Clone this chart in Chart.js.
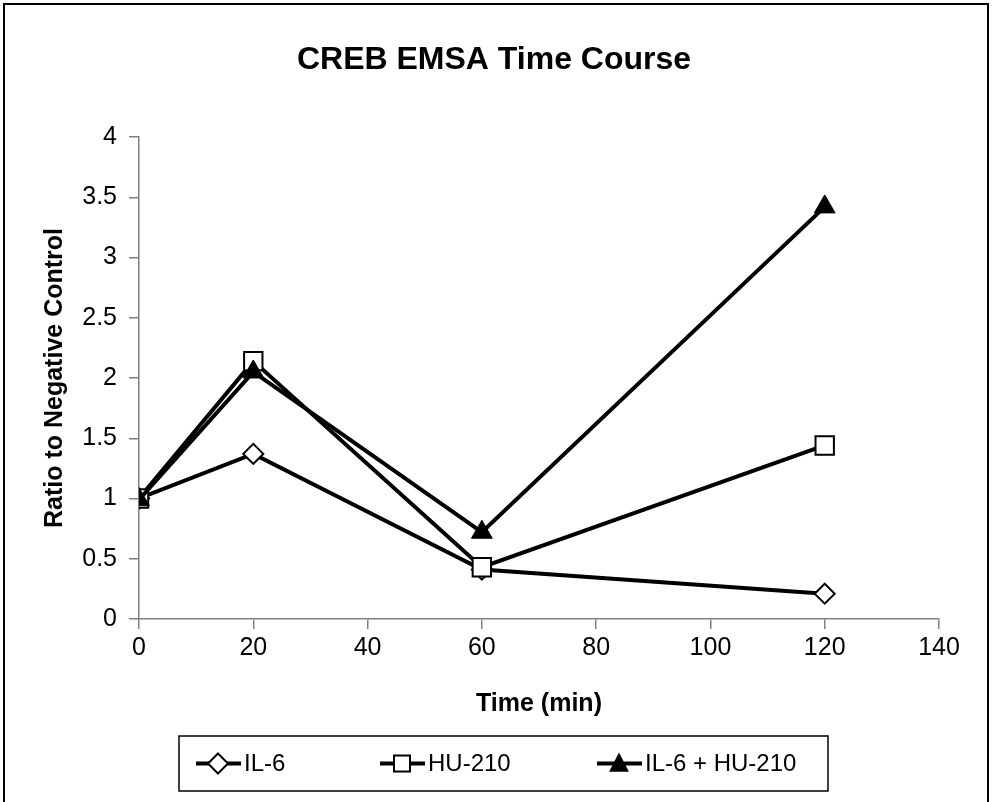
<!DOCTYPE html>
<html>
<head>
<meta charset="utf-8">
<script src="https://cdn.jsdelivr.net/npm/chart.js@4.4.1/dist/chart.umd.min.js"></script>
<style>
  html, body { margin: 0; padding: 0; background: #fff; }
  #wrap { width: 992px; height: 802px; position: relative; }
</style>
</head>
<body>
<div id="wrap"><canvas id="chart" width="992" height="802"></canvas></div>
<script>
// Data
const times = [0, 20, 60, 120];
const il6 = [1.0, 1.37, 0.41, 0.21];
const hu210 = [1.0, 2.14, 0.43, 1.44];
const il6Hu210 = [0.99, 2.05, 0.72, 3.42];
const seriesNames = ['IL-6', 'HU-210', 'IL-6 + HU-210'];
const chartTitle = 'CREB EMSA Time Course';
const xTicks = { min: 0, max: 140, step: 20 };
const yTicks = { min: 0, max: 4, step: 0.5 };

const FONT = '"Liberation Sans", Arial, sans-serif';
const AXIS_GRAY = '#808080';

function pts(vals) {
    return vals.map((v, i) => ({ x: times[i], y: v }));
}

// simple shapes for the legend box
function drawMarker(ctx, style, x, y) {
    ctx.save();
    ctx.lineWidth = 2;
    ctx.strokeStyle = '#000';
    ctx.beginPath();
    if (style === 'rectRot') {
        const r = 10;
        ctx.moveTo(x, y - r); ctx.lineTo(x + r, y); ctx.lineTo(x, y + r); ctx.lineTo(x - r, y); ctx.closePath();
        ctx.fillStyle = '#fff'; ctx.fill(); ctx.stroke();
    } else if (style === 'rect') {
        const s = 8;
        ctx.rect(x - s, y - s, 2 * s, 2 * s);
        ctx.fillStyle = '#fff'; ctx.fill(); ctx.stroke();
    } else {
        const r = 11;
        ctx.moveTo(x, y - r); ctx.lineTo(x + r * 0.9, y + r * 0.75); ctx.lineTo(x - r * 0.9, y + r * 0.75); ctx.closePath();
        ctx.fillStyle = '#000'; ctx.fill();
    }
    ctx.restore();
}

const frameAndLegend = {
    id: 'frameAndLegend',
    afterDraw(chart) {
        const ctx = chart.ctx;
        ctx.save();
        // outer frame
        ctx.strokeStyle = '#000';
        ctx.lineWidth = 2;
        ctx.strokeRect(4, 4, 984, 800);

        // title (centred on the frame, not the plot)
        ctx.font = 'bold 32px ' + FONT;
        ctx.fillStyle = '#000';
        ctx.textAlign = 'center';
        ctx.textBaseline = 'middle';
        ctx.fillText(chartTitle, 494, 60);

        // legend box
        const box = { left: 179, top: 736, right: 828, bottom: 791 };
        ctx.lineWidth = 1.5;
        ctx.strokeStyle = '#000';
        ctx.strokeRect(box.left, box.top, box.right - box.left, box.bottom - box.top);

        const cy = (box.top + box.bottom) / 2;
        const entries = [
            { x: 196, style: 'rectRot' },
            { x: 380, style: 'rect' },
            { x: 597, style: 'triangle' }
        ];
        ctx.font = '24px ' + FONT;
        ctx.textAlign = 'left';
        entries.forEach((e, i) => {
            ctx.lineWidth = 4;
            ctx.strokeStyle = '#000';
            ctx.beginPath();
            ctx.moveTo(e.x, cy);
            ctx.lineTo(e.x + 45, cy);
            ctx.stroke();
            drawMarker(ctx, e.style, e.x + 22, cy);
            ctx.fillText(seriesNames[i], e.x + 48, cy + 1);
        });
        ctx.restore();
    }
};

const commonLine = {
    borderColor: '#000',
    borderWidth: 4,
    pointBorderColor: '#000',
    pointBorderWidth: 2,
    tension: 0,
    fill: false
};

new Chart(document.getElementById('chart'), {
    type: 'line',
    data: {
        datasets: [
            Object.assign({}, commonLine, {
                label: seriesNames[0], data: pts(il6),
                pointStyle: 'rectRot', pointRadius: 10, pointBackgroundColor: '#fff', order: 2
            }),
            Object.assign({}, commonLine, {
                label: seriesNames[1], data: pts(hu210),
                pointStyle: 'rect', pointRadius: 13, pointBackgroundColor: '#fff', order: 1
            }),
            Object.assign({}, commonLine, {
                label: seriesNames[2], data: pts(il6Hu210),
                pointStyle: 'triangle', pointRadius: 12, pointBackgroundColor: '#000', pointBorderWidth: 1, order: 0
            })
        ]
    },
    options: {
        responsive: false,
        animation: false,
        layout: { padding: { left: 30, right: 53, top: 137, bottom: 83 } },
        plugins: {
            legend: { display: false },
            tooltip: { enabled: false },
            title: { display: false }
        },
        scales: {
            x: {
                type: 'linear',
                min: xTicks.min, max: xTicks.max,
                ticks: { stepSize: xTicks.step, color: '#000', font: { family: FONT, size: 25 }, padding: 4, maxRotation: 0 },
                grid: { drawOnChartArea: false, drawTicks: true, tickLength: 10, color: AXIS_GRAY, lineWidth: 1.5 },
                border: { color: AXIS_GRAY, width: 1.5 },
                title: { display: true, text: 'Time (min)', color: '#000', font: { family: FONT, size: 25, weight: 'bold' }, padding: { top: 0, bottom: 0 } },
                afterFit: s => { s.height = 100; }
            },
            y: {
                min: yTicks.min, max: yTicks.max,
                ticks: { stepSize: yTicks.step, color: '#000', font: { family: FONT, size: 25 }, padding: 12,
                         callback: v => String(v) },
                grid: { drawOnChartArea: false, drawTicks: true, tickLength: 10, color: AXIS_GRAY, lineWidth: 1.5 },
                border: { color: AXIS_GRAY, width: 1.5 },
                title: { display: true, text: 'Ratio to Negative Control', color: '#000', font: { family: FONT, size: 25, weight: 'bold' }, padding: { top: 10, bottom: 0 } },
                afterFit: s => { s.width = 109; }
            }
        }
    },
    plugins: [frameAndLegend]
});
</script>
</body>
</html>
